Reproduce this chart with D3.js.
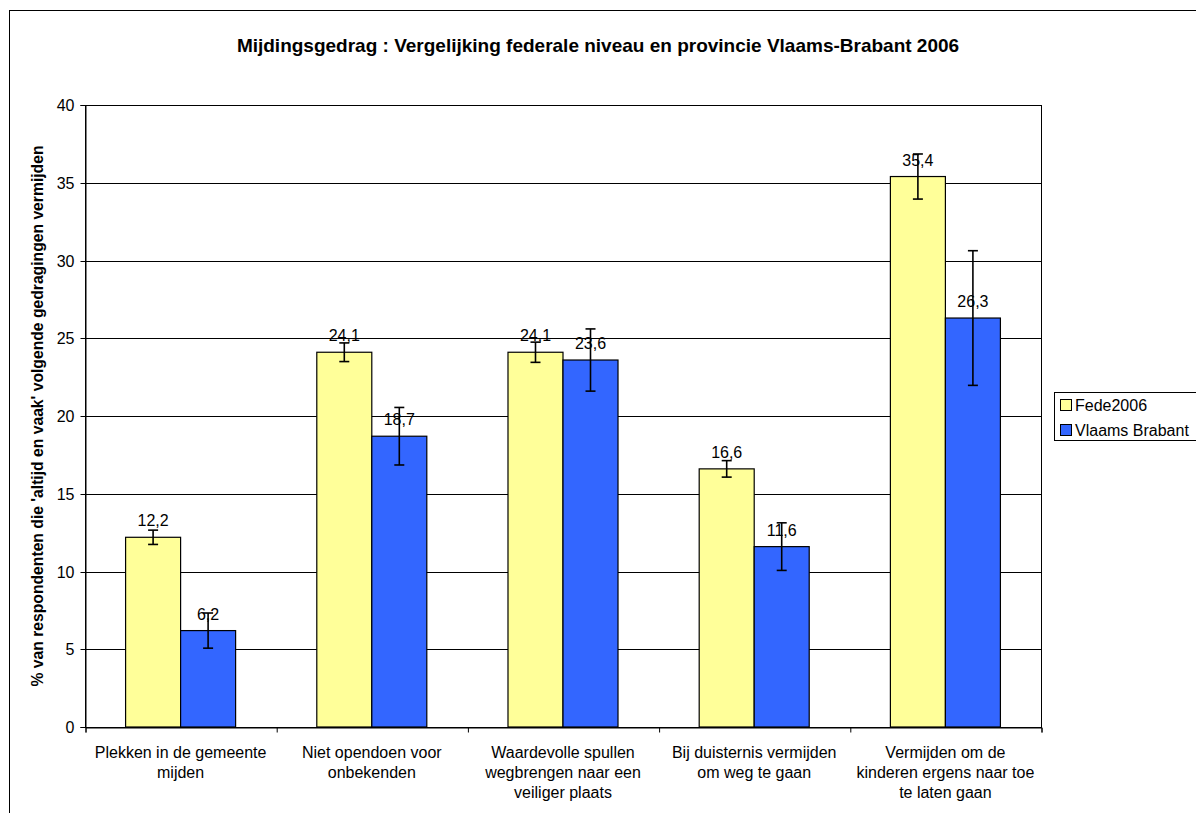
<!DOCTYPE html>
<html>
<head>
<meta charset="utf-8">
<script src="https://cdn.jsdelivr.net/npm/d3@7"></script>
<style>
  html, body { margin: 0; padding: 0; background: #fff; }
  svg { display: block; font-family: "Liberation Sans", Arial, sans-serif; }
</style>
</head>
<body>
<svg id="chart" width="1196" height="813"></svg>
<script>
// ---- data ----
const categories = [
  ["Plekken in de gemeente", "mijden"],
  ["Niet opendoen voor", "onbekenden"],
  ["Waardevolle spullen", "wegbrengen naar een", "veiliger plaats"],
  ["Bij duisternis vermijden", "om weg te gaan"],
  ["Vermijden om de", "kinderen ergens naar toe", "te laten gaan"]
];
const seriesNames = ["Fede2006", "Vlaams Brabant"];
const fedeValues = [12.2, 24.1, 24.1, 16.6, 35.4];
const vbValues = [6.2, 18.7, 23.6, 11.6, 26.3];
const fedeErrors = [0.46, 0.6, 0.65, 0.53, 1.45];
const vbErrors = [1.13, 1.85, 2.0, 1.53, 4.33];
const yTicks = [0, 5, 10, 15, 20, 25, 30, 35, 40];
const titleText = "Mijdingsgedrag : Vergelijking federale niveau en provincie Vlaams-Brabant 2006";
const yTitleText = "% van respondenten die 'altijd en vaak' volgende gedragingen vermijden";

const colors = ["#FFFF99", "#3366FF"];

const svg = d3.select("#chart");

// outer chart border
svg.append("rect").attr("x", 9.5).attr("y", 10.5).attr("width", 1300).attr("height", 900)
  .attr("fill", "#fff").attr("stroke", "#000").attr("stroke-width", 1);

const plot = { left: 85, top: 105, right: 1041, bottom: 727 };

const x0 = d3.scaleBand().domain(d3.range(categories.length))
  .range([plot.left, plot.right]).paddingInner(0).paddingOuter(0);
const y = d3.scaleLinear().domain([0, 40]).range([plot.bottom, plot.top]);

const groupW = x0.bandwidth();
const barW = groupW * 0.2877; // ~55px
const x1 = d3.scaleBand().domain([0, 1])
  .range([(groupW - 2 * barW) / 2, (groupW + 2 * barW) / 2]);

// title
svg.append("text").attr("x", 598).attr("y", 52).attr("text-anchor", "middle")
  .attr("font-size", 19).attr("font-weight", "bold").text(titleText);

// gridlines
svg.append("g").selectAll("line").data(yTicks).join("line")
  .attr("x1", plot.left).attr("x2", plot.right)
  .attr("y1", d => Math.round(y(d)) + 0.5).attr("y2", d => Math.round(y(d)) + 0.5)
  .attr("stroke", "#000").attr("stroke-width", 1);

// plot border
svg.append("rect").attr("x", plot.left + 0.5).attr("y", Math.round(y(40)) + 0.5)
  .attr("width", plot.right - plot.left).attr("height", Math.round(y(0)) - Math.round(y(40)))
  .attr("fill", "none").attr("stroke", "#000").attr("stroke-width", 1);

// y axis
const yAxis = d3.axisLeft(y).tickValues(yTicks).tickSize(5).tickPadding(6);
const yg = svg.append("g").attr("transform", `translate(${plot.left + 0.5},0)`).call(yAxis);
yg.select(".domain").attr("stroke", "#000");
yg.selectAll(".tick line").attr("stroke", "#000");
yg.selectAll(".tick").attr("transform", d => `translate(0,${Math.round(y(d)) + 0.5})`);
yg.selectAll("text").attr("font-size", 16).attr("fill", "#000")
  .attr("font-family", "Liberation Sans, Arial, sans-serif");

// x axis
const xAxis = d3.axisBottom(d3.scaleLinear().domain([0, categories.length]).range([plot.left, plot.right]))
  .tickValues(d3.range(categories.length + 1)).tickSize(5).tickFormat("");
const xg = svg.append("g").attr("transform", `translate(0.5,${Math.round(y(0)) + 0.5})`).call(xAxis);
xg.select(".domain").attr("stroke", "#000");
xg.selectAll(".tick line").attr("stroke", "#000");

// x labels
const xl = svg.append("g");
categories.forEach((lines, i) => {
  const cx = x0(i) + groupW / 2;
  const t = xl.append("text").attr("text-anchor", "middle").attr("font-size", 16).attr("fill", "#000");
  lines.forEach((ln, j) => {
    t.append("tspan").attr("x", cx).attr("y", 758 + j * 20).text(ln);
  });
});

// y title
svg.append("text").attr("transform", `translate(43,${(plot.top + plot.bottom) / 2}) rotate(-90)`)
  .attr("text-anchor", "middle").attr("font-size", 15.7).attr("font-weight", "bold")
  .text(yTitleText);

// bars
const series = [
  { vals: fedeValues, errs: fedeErrors },
  { vals: vbValues, errs: vbErrors }
];
const fmt = v => d3.format(".1f")(v).replace(".", ",");

series.forEach((s, si) => {
  const g = svg.append("g");
  s.vals.forEach((v, i) => {
    const bx = x0(i) + x1(si);
    g.append("rect").attr("x", bx).attr("y", y(v))
      .attr("width", barW).attr("height", y(0) - y(v))
      .attr("fill", colors[si]).attr("stroke", "#000").attr("stroke-width", 1.2);
  });
});

series.forEach((s, si) => {
  const g = svg.append("g");
  s.vals.forEach((v, i) => {
    const cx = x0(i) + x1(si) + barW / 2;
    g.append("text").attr("x", cx).attr("y", y(v) - 11).attr("text-anchor", "middle")
      .attr("font-size", 16).attr("fill", "#000").text(fmt(v));
  });
});

series.forEach((s, si) => {
  const g = svg.append("g").attr("stroke", "#000").attr("stroke-width", 1.6);
  s.vals.forEach((v, i) => {
    const cx = x0(i) + x1(si) + barW / 2;
    const e = s.errs[i];
    g.append("line").attr("x1", cx).attr("x2", cx).attr("y1", y(v + e)).attr("y2", y(v - e));
    g.append("line").attr("x1", cx - 5).attr("x2", cx + 5).attr("y1", y(v + e)).attr("y2", y(v + e));
    g.append("line").attr("x1", cx - 5).attr("x2", cx + 5).attr("y1", y(v - e)).attr("y2", y(v - e));
  });
});

// legend
const lg = svg.append("g");
lg.append("rect").attr("x", 1054.5).attr("y", 392.5).attr("width", 200).attr("height", 48)
  .attr("fill", "#fff").attr("stroke", "#000").attr("stroke-width", 1);
seriesNames.forEach((n, i) => {
  const yy = 405 + i * 25;
  lg.append("rect").attr("x", 1060.5).attr("y", yy - 5.5).attr("width", 11).attr("height", 11)
    .attr("fill", colors[i]).attr("stroke", "#000").attr("stroke-width", 1);
  lg.append("text").attr("x", 1075).attr("y", yy + 6).attr("font-size", 16).attr("fill", "#000").text(n);
});
</script>
</body>
</html>
